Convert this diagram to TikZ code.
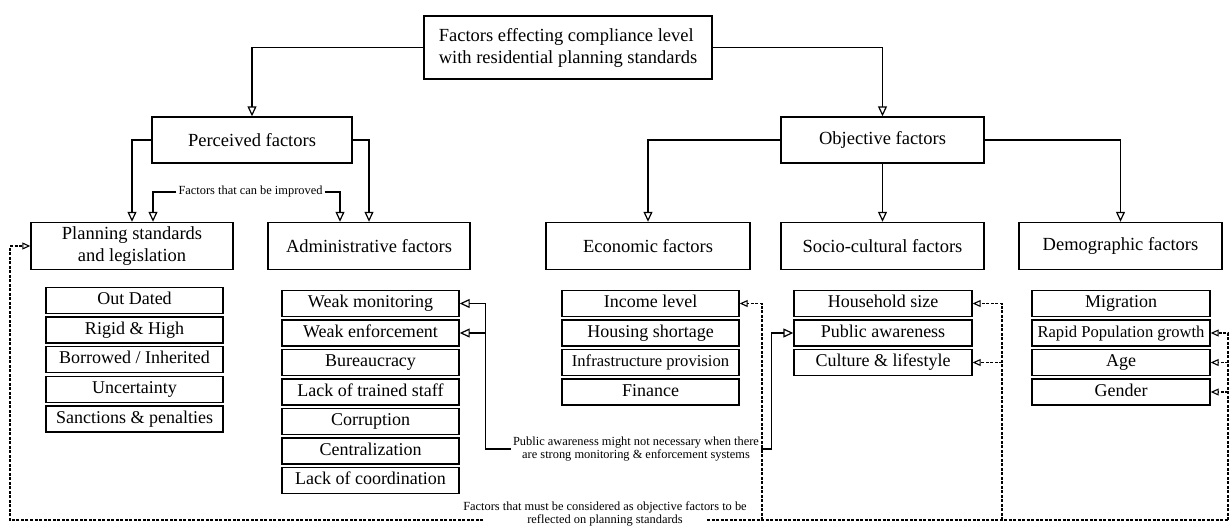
\documentclass[tikz,border=0pt]{standalone}
\usepackage{fontspec}
\setmainfont{Liberation Serif}
\usetikzlibrary{arrows.meta,positioning,calc}

\newcommand{\tightfont}{\fontsize{16.6}{18}\selectfont}

\tikzset{
  hbox/.style={draw,line width=1.4pt,minimum height=47pt,inner sep=2pt,font=\fontsize{18.5}{22}\selectfont,align=center},
  rowbox/.style={draw,line width=1.4pt,minimum width=177pt,minimum height=26pt,inner sep=1pt,text height=12.5pt,text depth=4pt,font=\fontsize{18}{20}\selectfont},
  txtnote/.style={inner sep=2pt,font=\fontsize{12.4}{13}\selectfont,align=center},
  arr/.style={line width=1.2pt,-{Triangle[open,length=10pt,width=9pt]}},
  darr/.style={line width=1.1pt,dash pattern=on 3pt off 1.5pt,-{Triangle[open,length=8pt,width=7pt]}},
  dline/.style={line width=1.1pt,dash pattern=on 3pt off 1.5pt},
}

\begin{document}
\begin{tikzpicture}[x=1pt,y=-1pt]
                \useasboundingbox (0,0) rectangle (1231,527);

                % Top box
                \node[hbox,minimum width=288pt,minimum height=63pt,align=left] (top) at (568,47.5) {Factors effecting compliance level\\with residential planning standards};

                % Main groups
                \node[hbox,minimum width=200pt,minimum height=46pt] (perc) at (252,140) {Perceived factors};
                \node[hbox,minimum width=203pt,minimum height=46pt] (obj) at (882.5,140) {Objective factors};

                % Sub groups
                \node[hbox,minimum width=202pt] (plan) at (132,246) {Planning standards\\and legislation};
                \node[hbox,minimum width=202pt] (adm) at (369,246) {Administrative factors};
                \node[hbox,minimum width=204pt] (eco) at (648,246) {Economic factors};
                \node[hbox,minimum width=203pt] (soc) at (882.5,246) {Socio-cultural factors};
                \node[hbox,minimum width=203pt] (dem) at (1120.5,246) {Demographic factors};

                % Rows
                \foreach \t [count=\i] in {Out Dated,Rigid \& High,Borrowed / Inherited,Uncertainty,Sanctions \& penalties}
                    \node[rowbox] (pl\i) at (134.5,270.5+29.7*\i) {\t};
                \foreach \t [count=\i] in {Weak monitoring,Weak enforcement,Bureaucracy,Lack of trained staff,Corruption,Centralization,Lack of coordination}
                    \node[rowbox] (ad\i) at (370.5,274+29.5*\i) {\t};
                \foreach \t [count=\i] in {Income level,Housing shortage,\tightfont Infrastructure provision,Finance}
                    \node[rowbox] (ec\i) at (650.5,274+29.5*\i) {\t};
                \foreach \t [count=\i] in {Household size,Public awareness,Culture \& lifestyle}
                    \node[rowbox,minimum width=178pt] (sc\i) at (883,274+29.5*\i) {\t};
                \foreach \t [count=\i] in {Migration,\tightfont Rapid Population growth,Age,Gender}
                    \node[rowbox,minimum width=178pt] (dm\i) at (1121,274+29.5*\i) {\t};

                % Tree arcs
                \draw[arr] (top.west) -| (perc.north);
                \draw[arr] (top.east) -| (obj.north);
                \draw[arr] (perc.west) -| (plan.north);
                \draw[arr] (perc.east) -| (adm.north);
                \draw[arr] (obj.west) -| (eco.north);
                \draw[arr] (obj.south) -- (soc.north);
                \draw[arr] (obj.east) -| (dem.north);

                % Improvable factors
                \node[txtnote] (impr) at (250.5,192) {Factors that can be improved};
                \draw[arr] (impr.west) -| ([xshift=21pt]plan.north);
                \draw[arr] (impr.east) -| ([xshift=-29pt]adm.north);

                % Public awareness note
                \node[txtnote] (pub) at (636,449) {Public awareness might not necessary when there\\are strong monitoring \& enforcement systems};
                \draw[arr] (pub.west) -| ([xshift=26pt]ad1.east) -- (ad1.east);
                \draw[arr] ([xshift=26pt]ad2.east) -- (ad2.east);
                \draw[arr] (pub.east) -| ([xshift=-22pt]sc2.west) -- (sc2.west);

                % Dashed feedback
                \coordinate (bl) at (10,520);
                \coordinate (br) at (1228,520);
                \coordinate (gl) at (483,520);
                \coordinate (gr) at (707,520);
                \coordinate (be) at (762,520);
                \coordinate (bs) at (1002,520);
                \node[txtnote] (must) at (605,514) {Factors that must be considered as objective factors to be\\reflected on planning standards};
                \draw[darr] (gl) -- (bl) |- (plan.west);
                \draw[dline] (gr) -- (br);
                \draw[darr] (be) |- (ec1.east);
                \draw[darr] (bs) |- (sc1.east);
                \draw[darr] (bs |- sc3.east) -- (sc3.east);
                \draw[darr] (br) |- (dm2.east);
                \draw[darr] (br |- dm3.east) -- (dm3.east);
                \draw[darr] (br |- dm4.east) -- (dm4.east);
\end{tikzpicture}
\end{document}
